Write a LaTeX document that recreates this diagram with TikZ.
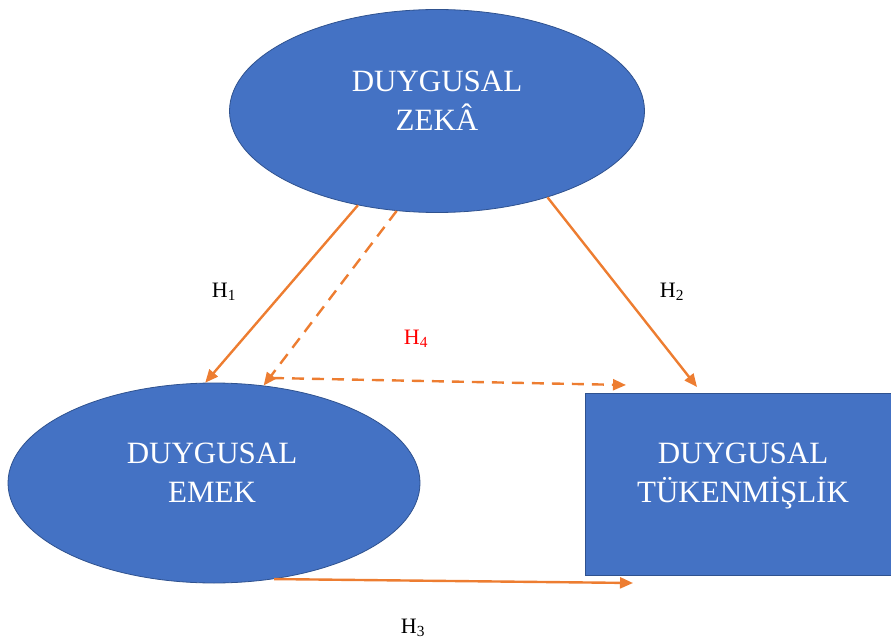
\documentclass[tikz,border=0pt]{standalone}
\usepackage{fontspec}
\setmainfont{Liberation Serif}
\usetikzlibrary{arrows.meta,shapes.geometric}
\definecolor{boxblue}{HTML}{4472C4}
\definecolor{boxedge}{HTML}{2F528F}
\definecolor{arrorange}{HTML}{ED7D31}
\tikzset{
  blob/.style={ellipse, fill=boxblue, draw=boxedge, line width=0.8pt, inner sep=0pt},
  blockbox/.style={rectangle, fill=boxblue, draw=boxedge, line width=0.8pt, inner sep=0pt},
  boxtext/.style={text=white, align=center, font=\fontsize{31}{39}\selectfont, inner sep=0pt},
  link/.style={draw=arrorange, line width=2.4pt, -{Triangle[length=13pt,width=11pt]}},
  dashlink/.style={link, dash pattern=on 12pt off 8pt},
  hyp/.style={font=\fontsize{22}{26}\selectfont, inner sep=0pt}
}
\begin{document}
\begin{tikzpicture}[x=1pt,y=-1pt]
\useasboundingbox (0,0) rectangle (891,644);
\node[blob, minimum width=415pt, minimum height=203pt] (zeka) at (437,111) {};
\node[blob, minimum width=412pt, minimum height=200pt] (emek) at (214,483) {};
\node[blockbox, minimum width=306pt, minimum height=182pt] (tuk) at (738,484) {};
\node[boxtext] (zekat) at (437,101) {DUYGUSAL\\ZEKÂ};
\node[boxtext] (emekt) at (212,473) {DUYGUSAL\\EMEK};
\node[boxtext] (tukt) at (743,476) {DUYGUSAL\\TÜKENMİŞLİK};
\coordinate (h2end) at (697,387);
\coordinate (h3end) at (633,583);
\coordinate (h4start) at (272,378);
\coordinate (h4end) at (626,385);
\draw[link] (zeka.230.8) -- (emek.95);
\draw[dashlink] (zeka.248.9) -- (emek.63);
\draw[dashlink] (h4start) -- (h4end);
\draw[link] (zeka.322.7) -- (h2end);
\draw[link] (emek.-58) -- (h3end);
\node[hyp] (h1) at (224,292) {H\textsubscript{1}};
\node[hyp] (h2) at (672,292) {H\textsubscript{2}};
\node[hyp, text=red] (h4) at (416,339) {H\textsubscript{4}};
\node[hyp] (h3) at (413,628) {H\textsubscript{3}};
\end{tikzpicture}
\end{document}
